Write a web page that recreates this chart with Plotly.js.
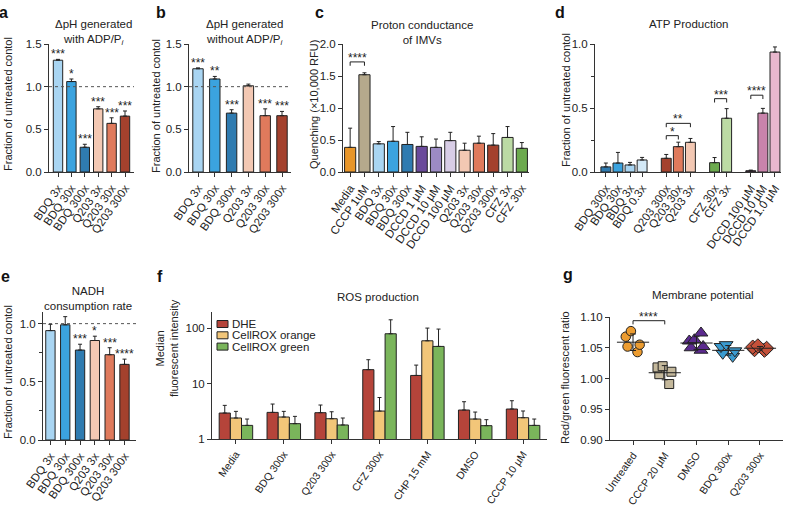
<!DOCTYPE html>
<html><head><meta charset="utf-8">
<script src="https://cdn.plot.ly/plotly-3.0.1.min.js"></script>
<style>html,body{margin:0;padding:0;background:#fff}#chart{width:788px;height:510px}</style>
</head><body><div id="chart"></div>
<script>
// ---------------- DATA ----------------
// panel a / b / e share categories
const abeCats = ['BDQ 3x','BDQ 30x','BDQ 300x','Q203 3x','Q203 30x','Q203 300x'];
const aVals  = [1.31, 1.06, 0.29, 0.74, 0.57, 0.655];
const aErr   = [0.01, 0.03, 0.035, 0.025, 0.065, 0.06];
const aStars = ['***','*','***','***','***','***'];

const bVals  = [1.21, 1.09, 0.69, 1.01, 0.66, 0.66];
const bErr   = [0.01, 0.03, 0.04, 0.02, 0.08, 0.05];
const bStars = ['***','**','***','','***','***'];

// panel c
const cCats = ['Media','CCCP 1uM','BDQ 3x','BDQ 30x','BDQ 300x','DCCD 1 µM','DCCD 10 µM','DCCD 100 µM','Q203 3x','Q203 30x','Q203 300x','CFZ 3x','CFZ 30x'];
const cVals = [0.385, 1.52, 0.44, 0.48, 0.43, 0.40, 0.385, 0.49, 0.34, 0.45, 0.42, 0.54, 0.37];
const cErr  = [0.30, 0.03, 0.035, 0.23, 0.19, 0.15, 0.13, 0.13, 0.11, 0.11, 0.18, 0.17, 0.09];

// panel d
const dCats = ['BDQ 300x','BDQ 30x','BDQ 3x','BDQ 0.3x','Q203 300x','Q203 30x','Q203 3x','CFZ 30x','CFZ 3x','DCCD 100 µM','DCCD 10 µM','DCCD 1.0 µM'];
const dVals = [0.04, 0.07, 0.055, 0.094, 0.107, 0.198, 0.232, 0.073, 0.42, 0.01, 0.46, 0.937];
const dErr  = [0.03, 0.083, 0.02, 0.02, 0.03, 0.035, 0.03, 0.04, 0.075, 0.005, 0.037, 0.04];

// panel e
const eVals  = [0.94, 0.99, 0.773, 0.855, 0.733, 0.65];
const eErr   = [0.054, 0.07, 0.05, 0.037, 0.06, 0.045];
const eStars = ['','','***','*','***','****'];

// panel f (log scale; *Hi = top of error bar)
const fGroups   = ['Media','BDQ 300x','Q203 300x','CFZ 300x','CHP 15 mM','DMSO','CCCP 10 µM'];
const fDHE      = [2.94, 3.02, 2.98, 17.8, 14.0, 3.33, 3.47];
const fDHEHi    = [4.04, 4.27, 4.10, 26.9, 21.5, 4.70, 4.90];
const fOrange   = [2.39, 2.49, 2.32, 3.19, 59, 2.29, 2.42];
const fOrangeHi = [3.15, 3.15, 3.10, 5.6, 100, 3.06, 3.20];
const fGreen    = [1.76, 1.89, 1.79, 79, 46.7, 1.74, 1.76];
const fGreenHi  = [2.29, 2.56, 2.39, 141, 96, 2.23, 2.29];
const fSeries   = ['DHE','CellROX orange','CellROX green'];

// panel g (individual points)
const gCats      = ['Untreated','CCCP 20 µM','DMSO','BDQ 300x','Q203 300x'];
const gUntreated = [1.077, 1.068, 1.055, 1.052, 1.043];
const gCCCP      = [1.018, 1.020, 1.011, 1.007, 0.991];
const gDMSO      = [1.074, 1.063, 1.061, 1.052, 1.050, 1.046];
const gBDQ       = [1.055, 1.052, 1.045, 1.041, 1.036];
const gQ203      = [1.053, 1.051, 1.049, 1.047, 1.046];

// ---------------- STYLE ----------------
const W = 788, H = 510;
const px = v => v / W, py = v => 1 - v / H;
const FONT = 'Liberation Sans, Arial, Helvetica, sans-serif';
const INK = '#222';
const COL = {
  bdq3:'#a9d5f2', bdq30:'#3ba3df', bdq300:'#2f7bb0', bdq03:'#d3e9f7',
  q3:'#f3c8b3', q30:'#df7a5c', q300:'#a4412d',
  media:'#e8962a', cccp:'#b5a98c',
  dccd1:'#6a4a9b', dccd10:'#9c8bc4', dccd100:'#d8cde6',
  cfz3:'#bcdba4', cfz30:'#6caa4e',
  dD100:'#4a2f45', dD10:'#c983ab', dD1:'#e9b7ce',
  dhe:'#b5443a', orange:'#f2c679', green:'#7ab55b',
  gU:'#ec9c30', gC:'#c4b89b', gD:'#5b2a8e', gB:'#3a9bd0', gQ:'#c4513a'
};
const abeColors = [COL.bdq3, COL.bdq30, COL.bdq300, COL.q3, COL.q30, COL.q300];
const cColors = [COL.media, COL.cccp, COL.bdq3, COL.bdq30, COL.bdq300, COL.dccd1, COL.dccd10, COL.dccd100, COL.q3, COL.q30, COL.q300, COL.cfz3, COL.cfz30];
const dColors = [COL.bdq300, COL.bdq30, COL.bdq3, COL.bdq03, COL.q300, COL.q30, COL.q3, COL.cfz30, COL.cfz3, COL.dD100, COL.dD10, COL.dD1];
const fColors = [COL.dhe, COL.orange, COL.green];

function bars(cats, vals, errs, colors, xa, ya, w) {
  return {
    type:'bar', x:cats, y:vals, xaxis:xa, yaxis:ya, width:w,
    marker:{color:colors, line:{color:INK, width:1}},
    error_y:{type:'data', symmetric:false, array:errs, arrayminus:errs.map(()=>0), color:INK, thickness:1, width:2},
    hoverinfo:'skip', showlegend:false
  };
}

const traces = [
  bars(abeCats, aVals, aErr, abeColors, 'x', 'y', 0.7),
  bars(abeCats, bVals, bErr, abeColors, 'x2', 'y2', 0.62),
  bars(cCats, cVals, cErr, cColors, 'x3', 'y3', 0.78),
  bars(dCats, dVals, dErr, dColors, 'x4', 'y4', 0.82),
  bars(abeCats, eVals, eErr, abeColors, 'x5', 'y5', 0.63)
];
[[fDHE,fDHEHi],[fOrange,fOrangeHi],[fGreen,fGreenHi]].forEach(([v,hi],i)=>{
  traces.push({
    type:'bar', name:fSeries[i], x:fGroups, y:v, xaxis:'x6', yaxis:'y6',
    marker:{color:fColors[i], line:{color:INK, width:1}},
    error_y:{type:'data', symmetric:false, array:hi.map((h,k)=>h-v[k]), arrayminus:v.map(()=>0), color:INK, thickness:1, width:2},
    hoverinfo:'skip', showlegend:false
  });
});

const gSets = [gUntreated, gCCCP, gDMSO, gBDQ, gQ203];
const gStyle = [
  {color:COL.gU, symbol:'circle', size:9.5},
  {color:COL.gC, symbol:'square', size:9},
  {color:COL.gD, symbol:'triangle-up', size:12},
  {color:COL.gB, symbol:'triangle-down', size:12},
  {color:COL.gQ, symbol:'diamond', size:11}
];
gSets.forEach((vals,i)=>{
  traces.push({
    type:'box', x:vals.map(()=>gCats[i]), y:vals, xaxis:'x7', yaxis:'y7',
    boxpoints:'all', jitter:0.9, pointpos:0, whiskerwidth:0, width:0.6,
    fillcolor:'rgba(0,0,0,0)', line:{width:0, color:'rgba(0,0,0,0)'},
    marker:{color:gStyle[i].color, symbol:gStyle[i].symbol, size:gStyle[i].size, line:{color:INK, width:1}},
    hoverinfo:'skip', showlegend:false
  });
});
const mean = a => a.reduce((s,v)=>s+v,0)/a.length;
const sd = a => { const m = mean(a); return Math.sqrt(a.reduce((s,v)=>s+(v-m)*(v-m),0)/(a.length-1)); };
traces.push({
  type:'scatter', mode:'markers', x:gCats, y:gSets.map(mean), xaxis:'x7', yaxis:'y7',
  marker:{symbol:'line-ew-open', size:23, color:INK, line:{width:1, color:INK}},
  error_y:{type:'data', array:gSets.map(sd), color:INK, thickness:1, width:3},
  hoverinfo:'skip', showlegend:false
});

// ---------------- AXES ----------------
const base = {showline:true, linecolor:'#333', linewidth:1, ticks:'outside', ticklen:4, tickcolor:'#333', tickwidth:1,
  showgrid:false, zeroline:false, fixedrange:true, tickfont:{size:11.5, color:INK, family:FONT}};
const X = (anchor, x0, x1, cats, extra) => Object.assign({}, base, {anchor, domain:[px(x0), px(x1)], tickangle:-55, type:'category',
  tickmode:'array', tickvals:cats, tickfont:{size:11.5, color:INK, family:FONT}}, extra || {});
const Y = (anchor, top, bottom, extra) => Object.assign({}, base, {anchor, domain:[py(bottom), py(top)]}, extra || {});
const minor = {dtick:0.25, ticks:'outside', ticklen:3, tickcolor:'#333'};
const smallTicks = {tickfont:{size:10.5, color:INK, family:FONT}};

const layout = {
  width:W, height:H, margin:{l:0, r:0, t:0, b:0}, paper_bgcolor:'#fff', plot_bgcolor:'rgba(0,0,0,0)',
  font:{family:FONT, color:INK, size:12}, showlegend:false, barmode:'group', bargap:0.3, bargroupgap:0, boxgap:0.1,
  xaxis:  X('y', 49, 134, abeCats),
  yaxis:  Y('x', 44, 172, {range:[0,1.5], dtick:0.5, tickformat:'.1f'}),
  xaxis2: X('y2', 189, 291, abeCats),
  yaxis2: Y('x2', 44, 172, {range:[0,1.5], dtick:0.5, tickformat:'.1f'}),
  xaxis3: X('y3', 343, 529, cCats),
  yaxis3: Y('x3', 44, 172, {range:[0,2], dtick:0.5, tickformat:'.1f'}),
  xaxis4: X('y4', 595, 781, dCats, {categoryorder:'array',
            categoryarray:[dCats[0],dCats[1],dCats[2],dCats[3],'_1',dCats[4],dCats[5],dCats[6],'_2',dCats[7],dCats[8],'_3',dCats[9],dCats[10],dCats[11]],
            range:[-0.9,14.5]}),
  yaxis4: Y('x4', 44, 172, {range:[0,1], dtick:0.5, tickformat:'.1f', minor}),
  xaxis5: X('y5', 43, 136, abeCats),
  yaxis5: Y('x5', 312, 440, {range:[0,1.1], dtick:0.5, tickformat:'.1f', minor}),
  xaxis6: X('y6', 212, 547, fGroups, smallTicks),
  yaxis6: Y('x6', 312, 439, {type:'log', range:[0,2.29], tickvals:[1,10,100], ticktext:['1','10','100']}),
  xaxis7: X('y7', 610, 783, gCats, smallTicks),
  yaxis7: Y('x7', 317, 440, {range:[0.9,1.1], dtick:0.05, tickformat:'.2f'}),
  annotations:[], shapes:[]
};

// ---------------- ANNOTATIONS ----------------
const A = layout.annotations, S = layout.shapes;
function txt(x, y, text, o) {
  A.push(Object.assign({xref:'paper', yref:'paper', x:px(x), y:py(y), text, showarrow:false,
    xanchor:'center', yanchor:'middle', font:{size:11.5, color:INK, family:FONT}}, o || {}));
}
// panel letters
[['a',4,12],['b',161,12],['c',319,12],['d',560,12],['e',5,276],['f',160,276],['g',568,274]].forEach(([l,x,y])=>
  txt(x, y, '<b>'+l+'</b>', {font:{size:16, color:'#111', family:FONT}}));
// panel titles
txt(93, 32.5, 'ΔpH generated<br>with ADP/P<sub><i>i</i></sub>');
txt(244, 32.5, 'ΔpH generated<br>without ADP/P<sub><i>i</i></sub>');
txt(422, 32.5, 'Proton conductance<br>of IMVs');
txt(688, 24, 'ATP Production');
txt(88, 298.5, 'NADH<br>consumption rate');
txt(378, 297, 'ROS production');
txt(703, 295, 'Membrane potential');
// y-axis titles
const yt = {textangle:-90, font:{size:11, color:INK, family:FONT}};
txt(8, 104, 'Fraction of untreated contol', yt);
txt(156, 106, 'Fraction of untreated contol', yt);
txt(314, 105, 'Quenching (×10,000 RFU)', yt);
txt(566, 100, 'Fraction of untreated contol', yt);
txt(8, 372, 'Fraction of untreated contol', yt);
txt(167, 348, 'Median<br>fluorescent intensity', yt);
txt(565, 378, 'Red/green fluorescent ratio', yt);

// stars above bars
function stars(cats, vals, errs, marks, xa, ya) {
  cats.forEach((c,i)=>{ if (!marks[i]) return;
    A.push({xref:xa, yref:ya, x:c, y:vals[i]+errs[i], text:marks[i], showarrow:false, xanchor:'center', yanchor:'bottom',
      yshift:-4, font:{size:12, color:INK, family:FONT}});
  });
}
stars(abeCats, aVals, aErr, aStars, 'x', 'y');
stars(abeCats, bVals, bErr, bStars, 'x2', 'y2');
stars(abeCats, eVals, eErr, eStars, 'x5', 'y5');

// dotted reference lines at 1.0
['', '2', '5'].forEach(k=>{
  S.push({type:'line', xref:'x'+k+' domain', yref:'y'+k, x0:0, x1:1, y0:1, y1:1, line:{color:'#555', width:1, dash:'dot'}});
});

// significance brackets
function bracket(xa, ya, order, c1, c2, y, drop, mark) {
  const ln = {color:INK, width:1};
  S.push({type:'line', xref:xa, yref:ya, x0:c1, x1:c2, y0:y, y1:y, line:ln});
  S.push({type:'line', xref:xa, yref:ya, x0:c1, x1:c1, y0:y-drop, y1:y, line:ln});
  S.push({type:'line', xref:xa, yref:ya, x0:c2, x1:c2, y0:y-drop, y1:y, line:ln});
  const mid = (order.indexOf(c1) + order.indexOf(c2)) / 2;
  A.push({xref:xa, yref:ya, x:mid, y:y, text:mark, showarrow:false, xanchor:'center', yanchor:'bottom', yshift:-5,
    font:{size:12, color:INK, family:FONT}});
}
const dOrder = layout.xaxis4.categoryarray;
bracket('x3','y3', cCats, 'Media', 'CCCP 1uM', 1.72, 0.06, '****');
bracket('x4','y4', dOrder, 'Q203 300x', 'Q203 30x', 0.284, 0.03, '*');
bracket('x4','y4', dOrder, 'Q203 300x', 'Q203 3x', 0.38, 0.03, '**');
bracket('x4','y4', dOrder, 'CFZ 30x', 'CFZ 3x', 0.573, 0.03, '***');
bracket('x4','y4', dOrder, 'DCCD 100 µM', 'DCCD 10 µM', 0.60, 0.03, '****');
bracket('x4','y4', dOrder, 'DCCD 100 µM', 'DCCD 1.0 µM', 1.03, 0.03, '****');
bracket('x7','y7', gCats, 'Untreated', 'CCCP 20 µM', 1.094, 0.006, '****');

// manual legend for panel f
fSeries.forEach((name,i)=>{
  const yc = 324 + i*11.3;
  S.push({type:'rect', xref:'paper', yref:'paper', x0:px(217), x1:px(228), y0:py(yc+3.5), y1:py(yc-3.5),
    fillcolor:fColors[i], line:{color:INK, width:1}});
  txt(230, yc, name, {xanchor:'left', font:{size:11.5, color:INK, family:FONT}});
});

Plotly.newPlot('chart', traces, layout, {staticPlot:true, displayModeBar:false});
</script>
</body></html>
